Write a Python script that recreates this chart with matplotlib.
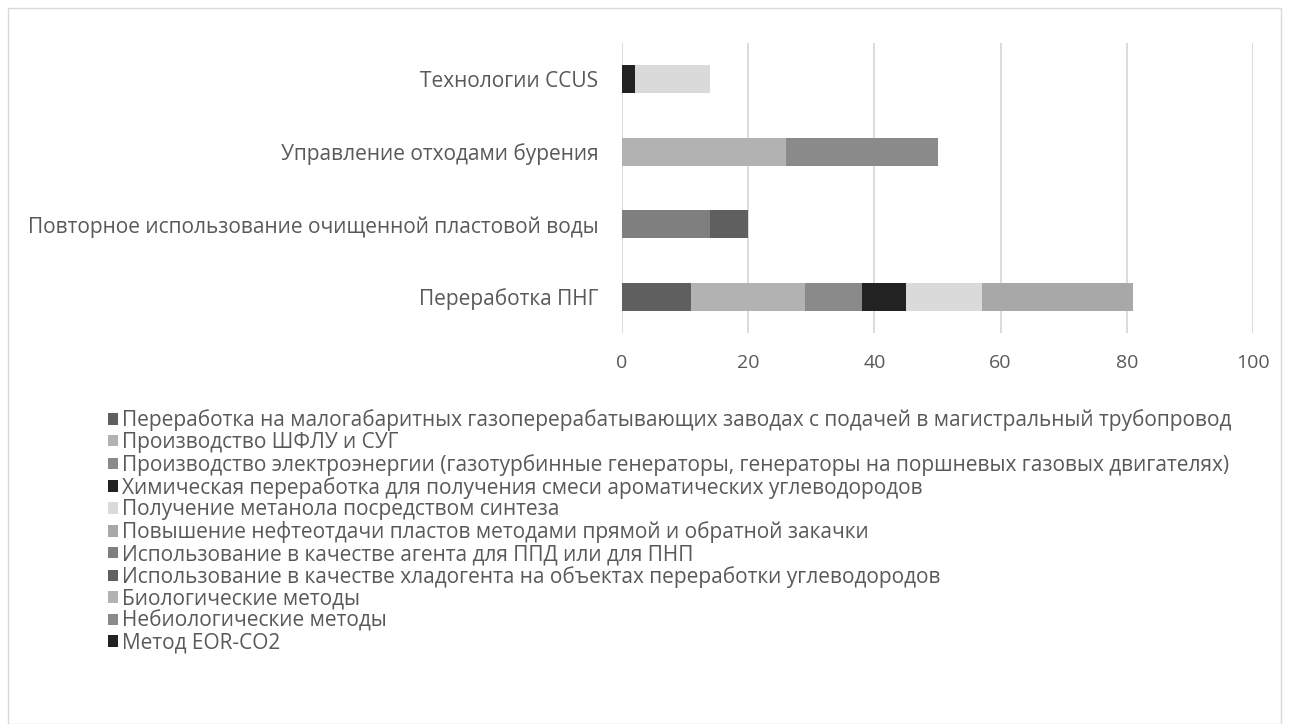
import numpy as np
import matplotlib.pyplot as plt
from matplotlib.patches import Rectangle

plt.rcParams['font.family'] = ['Open Sans', 'DejaVu Sans']

# categories, bottom to top
categories = ["Переработка ПНГ",
              "Повторное использование очищенной пластовой воды",
              "Управление отходами бурения",
              "Технологии CCUS"]

series_names = [
    "Переработка на малогабаритных газоперерабатывающих заводах с подачей в магистральный трубопровод",
    "Производство ШФЛУ и СУГ",
    "Производство электроэнергии (газотурбинные генераторы, генераторы на поршневых газовых двигателях)",
    "Химическая переработка для получения смеси ароматических углеводородов",
    "Получение метанола посредством синтеза",
    "Повышение нефтеотдачи пластов методами прямой и обратной закачки",
    "Использование в качестве агента для ППД или для ПНП",
    "Использование в качестве хладогента на объектах переработки углеводородов",
    "Биологические методы",
    "Небиологические методы",
    "Метод EOR-CO2",
    "_hidden",
]

# values per series for [ПНГ, вода, отходы, CCUS]
values = [
    [11, 0, 0, 0],
    [18, 0, 0, 0],
    [9, 0, 0, 0],
    [7, 0, 0, 0],
    [12, 0, 0, 0],
    [24, 0, 0, 0],
    [0, 14, 0, 0],
    [0, 6, 0, 0],
    [0, 0, 26, 0],
    [0, 0, 24, 0],
    [0, 0, 0, 2],
    [0, 0, 0, 12],
]

colors = ["#5f5f5f", "#b2b2b2", "#8a8a8a", "#222222", "#dadada", "#a8a8a8",
          "#7f7f7f", "#5f5f5f", "#b2b2b2", "#8a8a8a", "#222222", "#dadada"]

xticks = [0, 20, 40, 60, 80, 100]

fig = plt.figure(figsize=(12.89, 7.24), dpi=100)
ax = fig.add_axes([622/1289, 1-333/724, 631/1289, 290/724])

y = np.arange(len(categories))
left = np.zeros(len(categories))
handles = []
for name, vals, c in zip(series_names, values, colors):
    vals = np.array(vals, dtype=float)
    b = ax.barh(y, vals, left=left, height=0.39, color=c, label=name, zorder=3)
    left += vals
    if not name.startswith('_'):
        handles.append(b)

ax.set_xlim(0, 100)
ax.set_ylim(-0.5, len(categories) - 0.5)
ax.set_xticks(xticks)
ax.set_yticks(y)
ax.set_yticklabels(categories)
ax.tick_params(length=0, colors="#595959")
ax.tick_params(axis='x', pad=15, labelsize=14)
ax.tick_params(axis='y', pad=17, labelsize=15)
ax.grid(axis='x', color="#d9d9d9", linewidth=1.3, zorder=0)
for s in ax.spines.values():
    s.set_visible(False)

fig.legend(handles=handles, loc='upper left', bbox_to_anchor=(98/1289, 1-399/724),
           frameon=False, fontsize=15, labelcolor="#595959",
           handlelength=0.47, handleheight=0.47, handletextpad=0.2,
           labelspacing=0.04, borderpad=0)

fig.patches.append(Rectangle((8/1289, 0.0), 1273/1289, 1-8/724, transform=fig.transFigure,
                             fill=False, edgecolor="#d9d9d9", linewidth=1))

fig.savefig("out.png", dpi=100)
